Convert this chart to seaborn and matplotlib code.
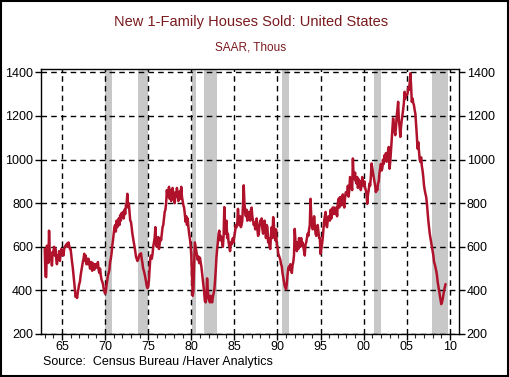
import numpy as np
import pandas as pd
import seaborn as sns
import matplotlib.pyplot as plt
from matplotlib.patches import Rectangle

# New 1-family houses sold, SAAR thous, monthly from Jan 1963
sales_1960s = [
    591, 464, 461, 605, 586, 526, 674, 571, 541, 551, 514, 577,
    565, 600, 560, 590, 545, 520, 560, 545, 580, 535, 560, 590,
    565, 585, 560, 590, 600, 605, 610, 615, 600, 620, 605, 590,
    590, 560, 530, 505, 470, 440, 400, 370, 380, 365, 390, 410,
    430, 440, 470, 490, 510, 530, 545, 568, 535, 560, 520, 545,
    520, 545, 530, 500, 515, 530, 490, 525, 510, 495, 520, 505,
    520, 505, 530, 495, 480, 500, 470, 450, 440, 430, 410, 395,
]
sales_1970s = [
    385, 395, 425, 445, 470, 480, 495, 530, 545, 570, 605, 630,
    660, 690, 700, 670, 720, 690, 715, 730, 700, 745, 720, 755,
    740, 760, 730, 770, 750, 790, 800, 843, 780, 800, 760, 720,
    715, 690, 660, 640, 620, 600, 580, 555, 545, 535, 540, 555,
    565, 560, 570, 545, 525, 500, 490, 475, 460, 440, 420, 410,
    415, 445, 500, 550, 560, 545, 565, 600, 620, 640, 690, 610,
    600, 625, 645, 590, 615, 640, 630, 660, 690, 700, 730, 760,
    770, 800, 860, 830, 845, 875, 820, 860, 810, 835, 870, 845,
    820, 800, 850, 830, 870, 845, 810, 835, 855, 820, 875, 830,
    810, 790, 780, 750, 715, 740, 700, 730, 690, 660, 640, 610,
]
sales_1980s = [
    560, 460, 375, 400, 520, 620, 600, 580, 560, 540, 555, 525,
    550, 530, 510, 480, 450, 420, 390, 350, 345, 365, 455, 400,
    370, 355, 345, 375, 360, 345, 370, 385, 400, 440, 490, 550,
    590, 620, 660, 674, 630, 650, 640, 620, 600, 650, 782, 660,
    700, 720, 640, 660, 620, 600, 580, 620, 610, 630, 640, 620,
    650, 670, 700, 690, 700, 774, 720, 700, 740, 690, 700, 720,
    790, 882, 800, 760, 740, 770, 720, 730, 760, 740, 720, 770,
    780, 740, 720, 700, 710, 680, 700, 730, 680, 650, 660, 700,
    720, 700, 730, 680, 660, 700, 720, 680, 640, 700, 690, 620,
    640, 600, 590, 660, 690, 640, 736, 700, 650, 630, 680, 610,
]
sales_1990s = [
    600, 570, 560, 550, 540, 520, 510, 480, 460, 440, 420, 413,
    405, 430, 470, 500, 510, 495, 520, 500, 480, 515, 530, 560,
    682, 630, 600, 580, 620, 590, 640, 620, 600, 640, 610, 620,
    600, 580, 560, 610, 620, 640, 660, 650, 680, 700, 820, 740,
    700, 680, 690, 740, 700, 660, 650, 680, 700, 670, 640, 640,
    567, 590, 610, 640, 680, 720, 740, 760, 700, 690, 720, 740,
    740, 720, 770, 730, 760, 780, 750, 780, 760, 750, 780, 740,
    800, 820, 780, 828, 800, 790, 830, 840, 800, 780, 820, 850,
    850, 840, 880, 830, 860, 920, 900, 880, 860, 1005, 920, 910,
    940, 900, 890, 920, 870, 910, 880, 900, 860, 880, 920, 890,
]
sales_2000s = [
    880, 900, 870, 860, 840, 797, 840, 860, 890, 880, 920, 982,
    960, 940, 920, 900, 880, 851, 870, 860, 890, 900, 940, 960,
    980, 950, 960, 1000, 980, 1020, 1000, 1030, 990, 1010, 1040, 1058,
    958, 990, 1040, 1090, 1140, 1189, 1160, 1130, 1112, 1150, 1200, 1230,
    1265, 1180, 1150, 1104, 1150, 1180, 1204, 1230, 1260, 1311, 1280, 1296,
    1296, 1300, 1330, 1320, 1350, 1396, 1340, 1265, 1280, 1260, 1250, 1227,
    1210, 1160, 1110, 1051, 1080, 1040, 1000, 989, 1010, 970, 950, 920,
    882, 860, 843, 830, 800, 760, 720, 690, 660, 640, 620, 598,
    580, 560, 530, 520, 505, 490, 470, 440, 420, 400, 383, 360,
    337, 345, 360, 380, 400, 415, 429,
]

# recession periods (start, end) in fractional years
recessions = [(1969.99, 1970.84), (1973.85, 1975.0), (1980.12, 1980.5),
              (1981.47, 1982.94), (1990.56, 1991.3), (2001.19, 2001.97),
              (2007.96, 2009.74)]

x_ticks = list(range(1965, 2011, 5))
x_labels = ["65", "70", "75", "80", "85", "90", "95", "00", "05", "10"]
y_ticks = [200, 400, 600, 800, 1000, 1200, 1400]

sales = sales_1960s + sales_1970s + sales_1980s + sales_1990s + sales_2000s
df = pd.DataFrame({"year": 1963 + np.arange(len(sales)) / 12, "sales": sales})

sns.set_style("ticks")
plt.rcParams["font.family"] = ["Liberation Sans", "DejaVu Sans"]

fig = plt.figure(figsize=(5.1, 3.77), dpi=100)
ax = fig.add_axes([0.0798, 0.1141, 0.8202, 0.7037])

for start, end in recessions:
    ax.axvspan(start, end, color="#c8c8c8", lw=0, zorder=0)

sns.lineplot(data=df, x="year", y="sales", color="#b0122b", lw=1.8, ax=ax, zorder=3)

ax.set_xlim(1962.53, 2011.06)
ax.set_ylim(200, 1417)
ax.set_xticks(x_ticks)
ax.set_xticklabels(x_labels)
ax.set_xticks(range(1963, 2011), minor=True)
ax.set_yticks(y_ticks)
ax.set_xlabel("")
ax.set_ylabel("")

ax.grid(True, which="major", color="black", ls=(0, (4, 3)), lw=1.0, zorder=1)
ax.tick_params(axis="y", left=True, right=True, labelleft=True, labelright=True,
               direction="out", length=4, width=1, labelsize=9, pad=1.5, colors="black")
ax.tick_params(axis="x", which="major", direction="out", length=4, width=1,
               labelsize=9, pad=1, colors="black")
ax.tick_params(axis="x", which="minor", direction="out", length=3, width=0.8)
for s in ax.spines.values():
    s.set_color("black")
    s.set_linewidth(1.0)

fig.text(0.492, 0.941, "New 1-Family Houses Sold: United States", ha="center", va="center",
         fontsize=10.5, color="#7a1a1f")
fig.text(0.492, 0.875, "SAAR, Thous", ha="center", va="center", fontsize=8.5,
         color="#7a1a1f")
fig.text(0.084, 0.04, "Source:  Census Bureau /Haver Analytics", ha="left", va="center",
         fontsize=9, color="black")

fig.patches.append(Rectangle((0.002, 0.003), 0.995, 0.994, transform=fig.transFigure,
                             fill=False, edgecolor="black", lw=1.5))

fig.savefig("out.png", dpi=100)
